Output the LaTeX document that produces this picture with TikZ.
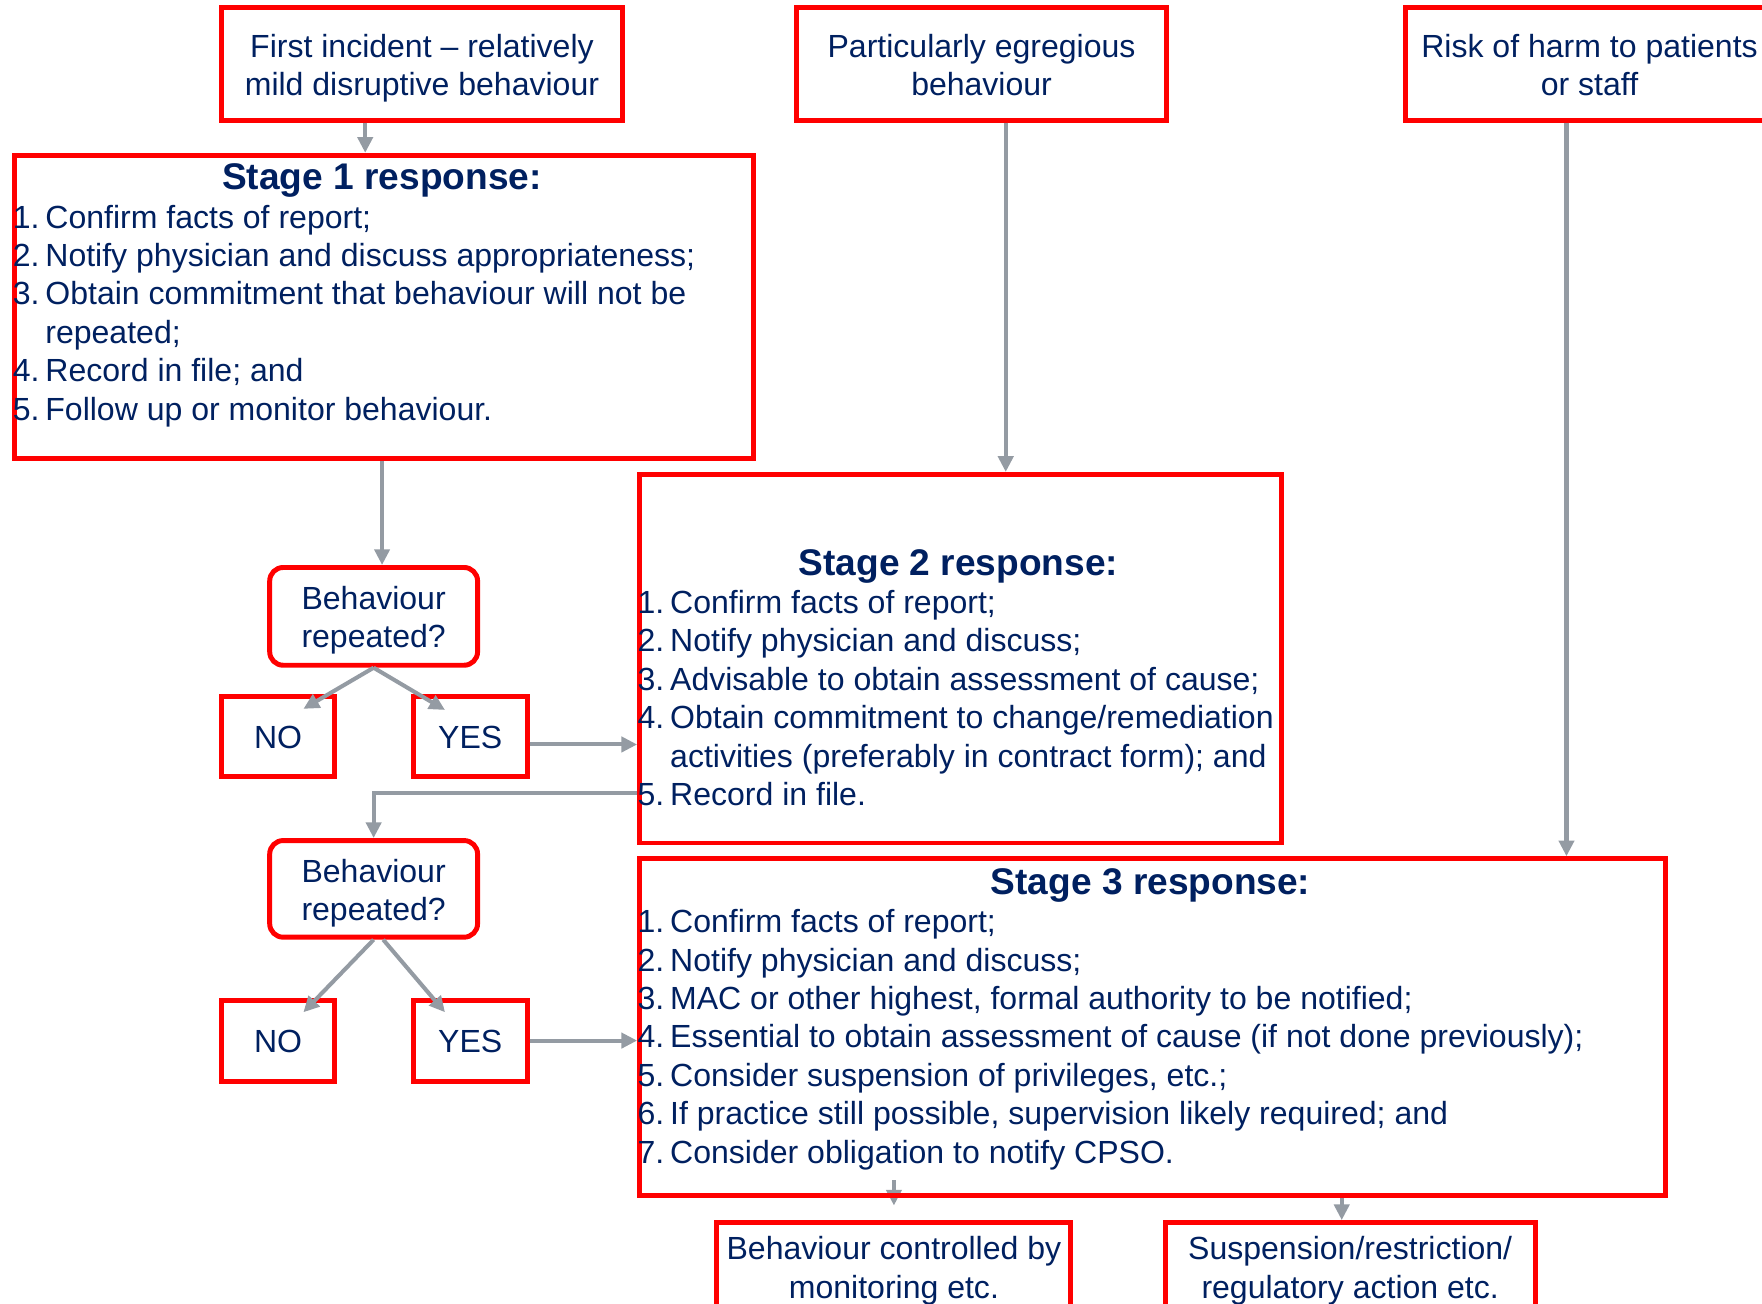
\documentclass[tikz,border=0pt]{standalone}
\usepackage{fontspec}
\setmainfont{Liberation Sans}
\usetikzlibrary{arrows.meta, backgrounds}

\definecolor{boxred}{RGB}{255,0,0}
\definecolor{textnavy}{RGB}{0,32,96}
\definecolor{linkgrey}{RGB}{148,155,163}

% numbered line with hanging indent, and a centred bold heading
\newcommand{\stitem}[2]{\par\hangindent=14.5pt\hangafter=1\noindent\makebox[14.5pt][l]{#1.}#2}
\newcommand{\sttitle}[2]{\noindent\makebox[#1][c]{\bfseries\fontsize{16.5}{17.1}\selectfont #2}}
% struts so that box texts sit in the middle
\newcommand{\topstrut}{\rule{0pt}{15pt}}
\newcommand{\botstrut}{\rule[-4pt]{0pt}{4pt}}

\begin{document}
\begin{tikzpicture}
        [x=0.5pt, y=-0.5pt,
        block/.style={draw=boxred, line width=2.2pt, inner sep=0pt, text=textnavy, align=center,
            font=\fontsize{14.25}{17.1}\selectfont},
        query/.style={block, rounded corners=6pt},
        stage/.style={draw=boxred, line width=2.2pt, inner sep=0pt, anchor=north west},
        stagetext/.style={inner sep=0pt, anchor=base west, text=textnavy, font=\fontsize{14.25}{17.1}\selectfont},
        link/.style={draw=linkgrey, line width=1.8pt, -{Triangle[length=7pt, width=6.7pt]}}]

        \path[use as bounding box] (0,0) rectangle (1568,1160);
        \clip (0,0) rectangle (1568,1160);

        % --- Entry points ---
        \node[block, minimum width=178.5pt, minimum height=50pt] (first) at (375.5,57) {\topstrut First incident – relatively\\mild disruptive behaviour\botstrut};
        \node[block, minimum width=164.5pt, minimum height=50pt] (egregious) at (873.5,57) {\topstrut Particularly egregious\\behaviour\botstrut};
        \node[block, minimum width=163.5pt, minimum height=50pt] (risk) at (1414.5,57) {\topstrut Risk of harm to patients\\or staff\botstrut};

        % --- Stage boxes ---
        \node[stage, minimum width=328.5pt, minimum height=135pt] (s1box) at (11,136) {};
        \node[stagetext] (s1text) at (11,168.8) {\parbox[t]{340pt}{\raggedright
            \sttitle{328.5pt}{Stage 1 response:}
            \stitem{1}{Confirm facts of report;}
            \stitem{2}{Notify physician and discuss appropriateness;}
            \stitem{3}{Obtain commitment that behaviour will not be\newline repeated;}
            \stitem{4}{Record in file; and}
            \stitem{5}{Follow up or monitor behaviour.}}};

        \node[stage, minimum width=285.5pt, minimum height=164pt] (s2box) at (567,420) {};
        \node[stagetext] (s2text) at (567,511.8) {\parbox[t]{330pt}{\raggedright
            \sttitle{285.5pt}{Stage 2 response:}
            \stitem{1}{Confirm facts of report;}
            \stitem{2}{Notify physician and discuss;}
            \stitem{3}{Advisable to obtain assessment of cause;}
            \stitem{4}{Obtain commitment to change/remediation\newline activities (preferably in contract form); and}
            \stitem{5}{Record in file.}}};

        \node[stage, minimum width=456.5pt, minimum height=150pt] (s3box) at (567,762) {};
        \node[stagetext] (s3text) at (567,795.8) {\parbox[t]{460pt}{\raggedright
            \sttitle{456.5pt}{Stage 3 response:}
            \stitem{1}{Confirm facts of report;}
            \stitem{2}{Notify physician and discuss;}
            \stitem{3}{MAC or other highest, formal authority to be notified;}
            \stitem{4}{Essential to obtain assessment of cause (if not done previously);}
            \stitem{5}{Consider suspension of privileges, etc.;}
            \stitem{6}{If practice still possible, supervision likely required; and}
            \stitem{7}{Consider obligation to notify CPSO.}}};

        % --- Decisions ---
        \node[query, minimum width=92.5pt, minimum height=43.5pt] (query1) at (332.5,548.5) {\topstrut Behaviour\\repeated?\botstrut};
        \node[block, minimum width=50.5pt, minimum height=35.5pt] (no1) at (247.5,655.5) {\topstrut NO\botstrut};
        \node[block, minimum width=50.5pt, minimum height=35.5pt] (yes1) at (418.5,655.5) {\topstrut YES\botstrut};

        \node[query, minimum width=92.5pt, minimum height=43pt] (query2) at (332.5,791) {\topstrut Behaviour\\repeated?\botstrut};
        \node[block, minimum width=50.5pt, minimum height=36pt] (no2) at (247.5,926) {\topstrut NO\botstrut};
        \node[block, minimum width=50.5pt, minimum height=36pt] (yes2) at (418.5,926) {\topstrut YES\botstrut};

        % --- Outcomes ---
        \node[block, minimum width=157.5pt, minimum height=39pt] (monitor) at (795.5,1127) {\topstrut Behaviour controlled by\\monitoring etc.\botstrut};
        \node[block, minimum width=164.5pt, minimum height=39pt] (suspend) at (1201.5,1127) {\topstrut Suspension/restriction/\\regulatory action etc.\botstrut};

        % x positions of the vertical links
        \coordinate (xa) at (325,0);
        \coordinate (xb) at (340,0);
        \coordinate (xc) at (895,0);
        \coordinate (xd) at (1394,0);
        \coordinate (xe) at (1194,0);
        \coordinate (yq) at (0,706);

        \draw[link] (first.south -| xa) -- (s1box.north -| xa);
        \draw[link] (s1box.south -| xb) -- (query1.north -| xb);
        \draw[link] (egregious.south -| xc) -- (s2box.north -| xc);
        \draw[link] (risk.south -| xd) -- (s3box.north -| xd);

        \draw[link] (query1.south) -- ([shift={(22.5,13)}]no1.north);
        \draw[link] (query1.south) -- ([shift={(-22.5,14)}]yes1.north);
        \draw[link] ([shift={(0,7)}]yes1.east) -- ([shift={(0,7)}]yes1.east -| s2box.west);
        \draw[link] (s2box.west |- yq) -| (query2.north);

        \draw[link] (query2.south) -- ([shift={(22.5,13)}]no2.north);
        \draw[link] ([shift={(8.5,0)}]query2.south) -- ([shift={(-22.5,13)}]yes2.north);
        \draw[link] (yes2.east) -- (yes2.east -| s3box.west);

        % this one starts inside stage 3, under its border
        \begin{scope}[on background layer]
            \draw[link] (monitor.north |- s3box.south) ++(0,-16) -- ([yshift=6.5pt]monitor.north);
        \end{scope}
        \draw[link] (s3box.south -| xe) -- (suspend.north -| xe);
    \end{tikzpicture}
\end{document}
